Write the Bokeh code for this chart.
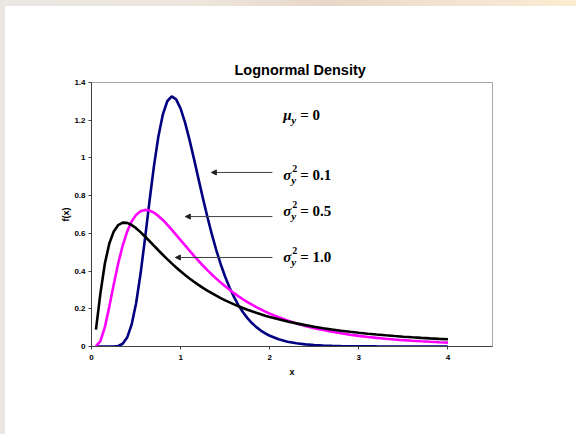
import math
from bokeh.plotting import figure
from bokeh.models import (Label, Arrow, NormalHead, FixedTicker, NumeralTickFormatter, Range1d)
from bokeh.embed import file_html
from bokeh.resources import INLINE

# Sample points along x
x_vals = [0.05, 0.10, 0.15, 0.20, 0.25, 0.30, 0.35, 0.40, 0.45, 0.50,
          0.55, 0.60, 0.65, 0.70, 0.75, 0.80, 0.85, 0.90, 0.95, 1.00,
          1.05, 1.10, 1.15, 1.20, 1.25, 1.30, 1.35, 1.40, 1.45, 1.50,
          1.55, 1.60, 1.65, 1.70, 1.75, 1.80, 1.85, 1.90, 1.95, 2.00,
          2.1, 2.2, 2.3, 2.4, 2.5, 2.6, 2.7, 2.8, 2.9, 3.0,
          3.1, 3.2, 3.3, 3.4, 3.5, 3.6, 3.7, 3.8, 3.9, 4.0]

# Lognormal densities, mu_y = 0
f_var_01 = [0.0, 0.0, 0.0, 0.00001, 0.00034, 0.00299, 0.01458, 0.04739, 0.11564, 0.22837,
            0.38410, 0.57031, 0.76743, 0.95407, 1.11209, 1.22943, 1.30060, 1.32607, 1.31062, 1.26157,
            1.18728, 1.09598, 0.99496, 0.89033, 0.78683, 0.68786, 0.59568, 0.51162, 0.43626, 0.36966,
            0.31155, 0.26128, 0.21821, 0.18155, 0.15060, 0.12459, 0.10279, 0.08464, 0.06957, 0.05709,
            0.03831, 0.02562, 0.01709, 0.01139, 0.00758, 0.00505, 0.00337, 0.00225, 0.00150, 0.00101,
            0.00068, 0.00045, 0.00031, 0.00021, 0.00014, 0.00010, 0.00007, 0.00005, 0.00003, 0.00002]

f_var_05 = [0.00143, 0.02811, 0.10287, 0.21155, 0.33026, 0.44134, 0.53544, 0.60917, 0.66267, 0.69790,
            0.71753, 0.72434, 0.72098, 0.70971, 0.69250, 0.67098, 0.64645, 0.61996, 0.59232, 0.56419,
            0.53605, 0.50826, 0.48111, 0.45479, 0.42943, 0.40513, 0.38193, 0.35986, 0.33892, 0.31911,
            0.30039, 0.28273, 0.26609, 0.25043, 0.23571, 0.22187, 0.20888, 0.19668, 0.18522, 0.17448,
            0.15493, 0.13772, 0.12258, 0.10923, 0.09747, 0.08708, 0.07791, 0.06980, 0.06262, 0.05625,
            0.05060, 0.04558, 0.04110, 0.03712, 0.03356, 0.03038, 0.02753, 0.02498, 0.02270, 0.02064]

f_var_10 = [0.0899, 0.28158, 0.43984, 0.54626, 0.61046, 0.64421, 0.65693, 0.65544, 0.64453, 0.62749,
            0.60665, 0.58357, 0.55937, 0.53480, 0.51036, 0.48642, 0.46319, 0.44082, 0.41939, 0.39894,
            0.37949, 0.36103, 0.34354, 0.32697, 0.31131, 0.29650, 0.28250, 0.26928, 0.25678, 0.24497,
            0.23382, 0.22327, 0.21329, 0.20385, 0.19492, 0.18647, 0.17846, 0.17088, 0.16369, 0.15687,
            0.14426, 0.13289, 0.12261, 0.11331, 0.10487, 0.09720, 0.09022, 0.08386, 0.07805, 0.07273,
            0.06785, 0.06338, 0.05927, 0.05549, 0.05200, 0.04879, 0.04581, 0.04306, 0.04052, 0.03815]

x_ticks = [0, 1, 2, 3, 4]
y_ticks = [0, 0.2, 0.4, 0.6, 0.8, 1.0, 1.2, 1.4]

SANS = "Liberation Sans"
SERIF = "Liberation Serif"

p = figure(width=576, height=434, output_backend="svg", toolbar_location=None,
           x_range=Range1d(0, 4.5), y_range=Range1d(0, 1.4),
           min_border_left=91, min_border_right=84, min_border_top=82, min_border_bottom=88)
p.border_fill_color = None
p.background_fill_color = "white"
p.outline_line_color = "#a8a8a8"
p.outline_line_width = 1
p.grid.visible = False
p.styles = {
    "background": ("linear-gradient(to right, #ebe6e1 0px, #ebe6e1 5px, rgba(255,255,255,0) 5px), "
                   "linear-gradient(to right, #ebe7e3 0%, #ede6dd 35%, #e8d6c8 57%, #f1e0cd 72%, "
                   "#f6e6d3 88%, #fdedcf 100%) top left / 100% 6px no-repeat, white")
}

p.title.text = "Lognormal Density"
p.title.align = "left"
p.title.offset = 143
p.title.standoff = 10
p.title.text_font = SANS
p.title.text_font_style = "bold"
p.title.text_font_size = "14.5px"
p.title.text_color = "black"

for ax in (p.xaxis[0], p.yaxis[0]):
    ax.axis_line_color = "#404040"
    ax.axis_line_width = 1
    ax.major_tick_line_color = "#404040"
    ax.major_tick_in = 0
    ax.major_tick_out = 3
    ax.minor_tick_line_color = None
    ax.major_label_text_font = SANS
    ax.major_label_text_font_style = "bold"
    ax.major_label_text_font_size = "8px"
    ax.major_label_text_color = "black"
    ax.axis_label_text_font = SANS
    ax.axis_label_text_font_style = "bold"
    ax.axis_label_text_font_size = "9px"
    ax.axis_label_text_color = "black"

p.xaxis.ticker = FixedTicker(ticks=x_ticks)
p.xaxis.formatter = NumeralTickFormatter(format="0")
p.xaxis.major_label_standoff = 5
p.xaxis.axis_label = "x"
p.xaxis.axis_label_standoff = 4
p.yaxis.ticker = FixedTicker(ticks=y_ticks)
p.yaxis.formatter = NumeralTickFormatter(format="0.[0]")
p.yaxis.major_label_standoff = 3
p.yaxis.axis_label = "f(x)"
p.yaxis.axis_label_standoff = 0

p.line(x_vals, f_var_01, line_color="#000080", line_width=2.6)
p.line(x_vals, f_var_05, line_color="#ff00ff", line_width=2.6)
p.line(x_vals, f_var_10, line_color="black", line_width=2.6)

# Parameter annotations, built from base symbol, subscript, superscript and value
def math_label(x, y, base, tail, sup=None):
    common = dict(text_font=SERIF, text_baseline="middle", text_align="left", text_color="black")
    p.add_layout(Label(x=x, y=y, text=base, text_font_style="bold italic",
                       text_font_size="15px", **common))
    p.add_layout(Label(x=x, y=y, x_offset=8, y_offset=-5, text="y",
                       text_font_style="bold italic", text_font_size="11px", **common))
    if sup:
        p.add_layout(Label(x=x, y=y, x_offset=9, y_offset=6, text=sup,
                           text_font_style="bold", text_font_size="10px", **common))
    p.add_layout(Label(x=x, y=y, x_offset=17, y_offset=0, text=tail,
                       text_font_style="bold", text_font_size="15px", **common))

math_label(2.151, 1.228, "\u03bc", "= 0")
math_label(2.151, 0.910, "\u03c3", "= 0.1", sup="2")
math_label(2.151, 0.719, "\u03c3", "= 0.5", sup="2")
math_label(2.151, 0.475, "\u03c3", "= 1.0", sup="2")

arrow_ends = [(1.345, 0.923), (1.053, 0.689), (0.941, 0.472)]
for xe, ye in arrow_ends:
    p.add_layout(Arrow(x_start=2.03, y_start=ye, x_end=xe, y_end=ye,
                       line_color="#404040", line_width=1,
                       end=NormalHead(size=5, line_color="#202020", fill_color="#202020")))

open("out.html", "w").write(file_html(p, INLINE))
